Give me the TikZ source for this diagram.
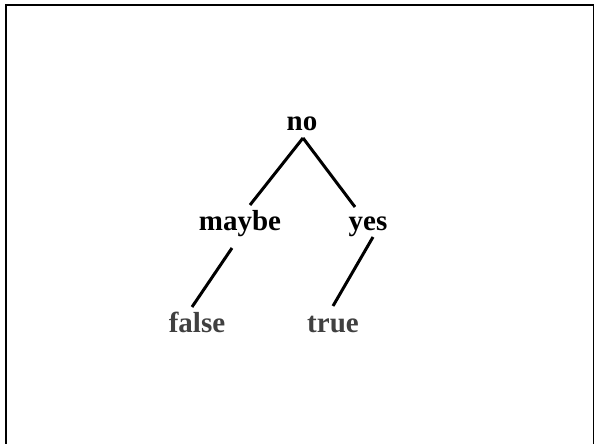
\documentclass[tikz,border=0pt]{standalone}
\usepackage{fontspec}
\setmainfont{Liberation Serif}
\begin{document}
\begin{tikzpicture}[x=1pt,y=1pt,
  lbl/.style={anchor=base,inner sep=0pt,font=\fontsize{29}{30}\selectfont\bfseries},
  leaf/.style={lbl,text=black!75},
  edge/.style={line width=3pt}]
\useasboundingbox (0,0) rectangle (594,444);
\begin{scope}
\clip (0,0) rectangle (594,444);
\draw[line width=2pt] (6,439) rectangle (593.5,-5);
\end{scope}
\node[lbl] (no) at (302,313) {no};
\node[lbl] (maybe) at (240,213) {maybe};
\node[lbl] (yes) at (368,213) {yes};
\node[leaf] (false) at (197,111) {false};
\node[leaf] (true) at (333,111) {true};
\draw[edge] ([xshift=1pt,yshift=-7pt]no.base) -- ([xshift=10pt,yshift=26pt]maybe.base);
\draw[edge] ([xshift=1pt,yshift=-7pt]no.base) -- ([xshift=-13pt,yshift=24pt]yes.base);
\draw[edge] ([xshift=-8pt,yshift=-17pt]maybe.base) -- ([xshift=-5pt,yshift=26pt]false.base);
\draw[edge] ([xshift=5pt,yshift=-6pt]yes.base) -- ([xshift=0pt,yshift=27pt]true.base);
\end{tikzpicture}
\end{document}
